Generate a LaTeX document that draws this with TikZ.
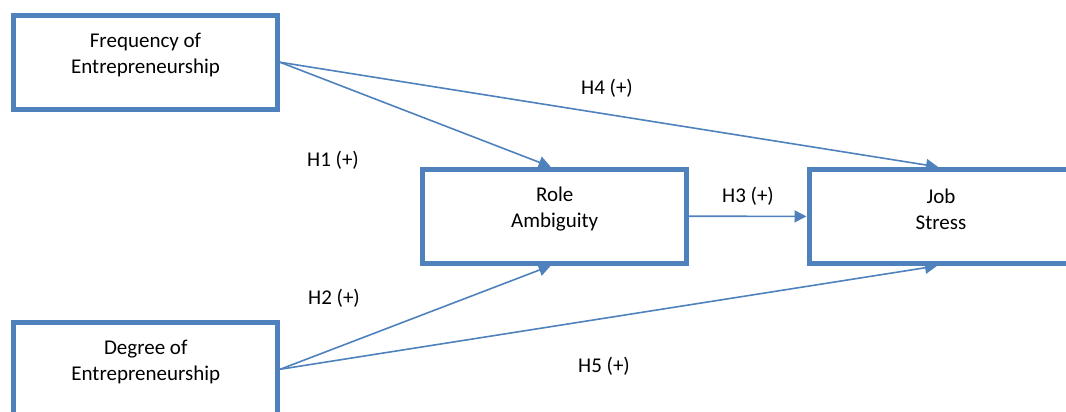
\documentclass[tikz,border=0pt]{standalone}
\usepackage{fontspec}
\setmainfont{Carlito}
\usetikzlibrary{arrows.meta}
\definecolor{boxblue}{HTML}{4F81BD}

\begin{document}
\begin{tikzpicture}[x=1pt, y=-1pt,
		box/.style={draw=boxblue, line width=5, minimum width=264, minimum height=94, inner sep=0},
		txt/.style={align=center, font=\fontsize{21}{26}\selectfont},
		hyp/.style={font=\fontsize{21}{26}\selectfont},
		link/.style={draw=boxblue, line width=1.6, -{Triangle[length=12pt, width=12pt]}}]
		\clip (0, 0) rectangle (1066, 412);

		\node [box] (freq) at (145.5, 62.25) {};
		\node [box] (deg) at (145.75, 369.25) {};
		\node [box] (role) at (554.7, 216.2) {};
		\node [box] (job) at (941, 216.4) {};

		\node [txt] (freqtxt) at ([yshift=7]freq.center) {Frequency of\\Entrepreneurship};
		\node [txt] (degtxt) at ([yshift=7]deg.center) {Degree of\\Entrepreneurship};
		\node [txt] (roletxt) at ([yshift=7]role.center) {Role\\Ambiguity};
		\node [txt] (jobtxt) at ([yshift=7]job.center) {Job\\Stress};

		\draw [link] (freq.east) -- ([xshift=-4]role.north);
		\draw [link] (freq.east) -- ([xshift=-3]job.north);
		\draw [link] (deg.east) -- ([xshift=-4]role.south);
		\draw [link] (deg.east) -- ([xshift=-4]job.south);
		\draw [link] (role.east) -- (job.west);

		\node [hyp] (h1) at (333, 160) {H1 (+)};
		\node [hyp] (h2) at (334, 298) {H2 (+)};
		\node [hyp] (h3) at (748, 196) {H3 (+)};
		\node [hyp] (h4) at (607, 88) {H4 (+)};
		\node [hyp] (h5) at (604, 366) {H5 (+)};
	\end{tikzpicture}
\end{document}
